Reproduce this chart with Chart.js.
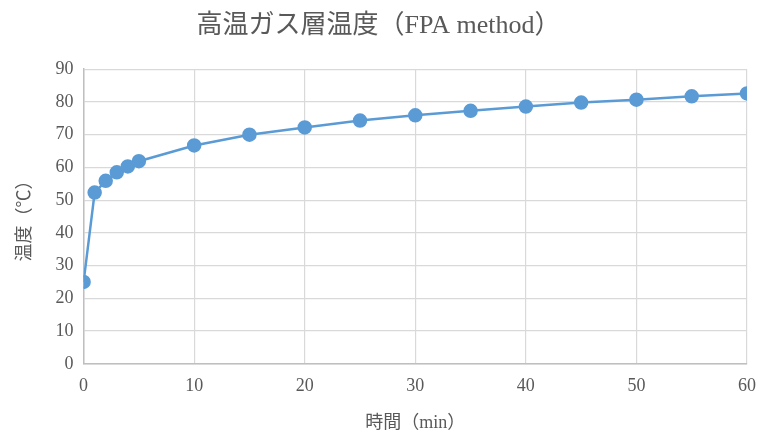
<!DOCTYPE html>
<html>
<head>
<meta charset="utf-8">
<script src="https://cdn.jsdelivr.net/npm/chart.js@4"></script>
<style>
  html, body { margin: 0; padding: 0; background: #fff; }
  #wrap { width: 760px; height: 434px; }
</style>
</head>
<body>
<div id="wrap"><canvas id="tempChart"></canvas></div>
<script>
const time_min = [0, 1, 2, 3, 4, 5, 10, 15, 20, 25, 30, 35, 40, 45, 50, 55, 60];
const temp_c = [25, 52.3, 55.9, 58.5, 60.3, 61.9, 66.7, 70, 72.2, 74.3, 75.9, 77.3, 78.6, 79.8, 80.7, 81.7, 82.6];

const fontFam = "'Liberation Serif', 'Noto Sans CJK JP', serif";
const gray = "#595959";

const points = time_min.map((t, i) => ({ x: t, y: temp_c[i] }));

const ctx = document.getElementById("tempChart").getContext("2d");

new Chart(ctx, {
  type: "line",
  data: {
    datasets: [
      {
        label: "高温ガス層温度",
        data: points,
        borderColor: "#5B9BD5",
        backgroundColor: "#5B9BD5",
        borderWidth: 2.5,
        pointRadius: 6,
        pointHoverRadius: 6,
        tension: 0,
      },
    ],
  },
  options: {
    responsive: true,
    maintainAspectRatio: false,
    animation: false,
    layout: { padding: { left: 10, right: 13, top: 5, bottom: 0 } },
    plugins: {
      legend: { display: false },
      tooltip: { enabled: false },
      title: {
        display: true,
        text: "高温ガス層温度（FPA method）",
        color: gray,
        font: { family: fontFam, size: 26, weight: "normal" },
        padding: { top: 6, bottom: 27 },
      },
    },
    scales: {
      x: {
        type: "linear",
        min: 0,
        max: 60,
        ticks: { stepSize: 10, color: gray, font: { family: fontFam, size: 18 }, padding: 0 },
        grid: { color: "#d9d9d9", lineWidth: 1.2, drawTicks: true, tickLength: 12, tickColor: "rgba(0,0,0,0)" },
        border: { color: "#bfbfbf", width: 1.5 },
        title: {
          display: true,
          text: "時間（min）",
          color: gray,
          font: { family: fontFam, size: 18 },
          padding: { top: 15, bottom: 0 },
        },
      },
      y: {
        min: 0,
        max: 90,
        ticks: { stepSize: 10, color: gray, font: { family: fontFam, size: 18 }, padding: 10 },
        grid: { color: "#d9d9d9", lineWidth: 1.2, drawTicks: false },
        border: { color: "#bfbfbf", width: 1.5 },
        title: {
          display: true,
          text: "温度（℃）",
          color: gray,
          font: { family: fontFam, size: 18 },
          padding: { bottom: 10 },
        },
      },
    },
  },
});
</script>
</body>
</html>
